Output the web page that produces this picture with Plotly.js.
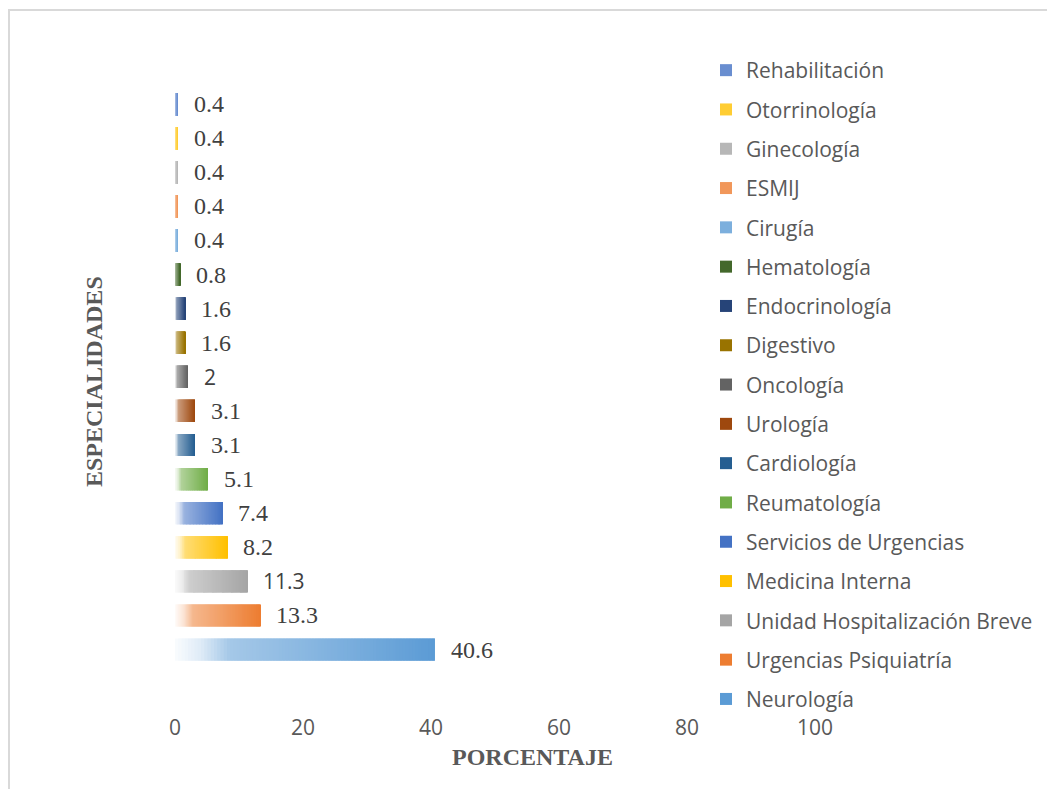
<!DOCTYPE html>
<html>
<head>
<meta charset="utf-8">
<script src="https://cdn.plot.ly/plotly-3.0.1.min.js"></script>
<style>
  html, body { margin: 0; padding: 0; background: #ffffff; }
  #chart { width: 1047px; height: 789px; }
</style>
</head>
<body>
<div id="chart"></div>
<script>
// Especialidades (de abajo hacia arriba) y su porcentaje
const categories = [
  'Neurología', 'Urgencias Psiquiatría', 'Unidad Hospitalización Breve',
  'Medicina Interna', 'Servicios de Urgencias', 'Reumatología', 'Cardiología',
  'Urología', 'Oncología', 'Digestivo', 'Endocrinología', 'Hematología',
  'Cirugía', 'ESMIJ', 'Ginecología', 'Otorrinología', 'Rehabilitación'
];
const values = [40.6, 13.3, 11.3, 8.2, 7.4, 5.1, 3.1, 3.1, 2, 1.6, 1.6, 0.8, 0.4, 0.4, 0.4, 0.4, 0.4];
const xTicks = [0, 20, 40, 60, 80, 100];
const xTitle = 'PORCENTAJE';
const yTitle = 'ESPECIALIDADES';

// Colores de serie (tema de Office)
const colors = [
  '#5B9BD5', '#ED7D31', '#A5A5A5', '#FFC000', '#4472C4', '#70AD47', '#255E91',
  '#9E480E', '#636363', '#997300', '#264478', '#43682B', '#7CAFDD', '#F1975A',
  '#B7B7B7', '#FFCD33', '#698ED0'
];
// Etiquetas que se rotulan con tipografía sans
const sansLabels = ['Oncología', 'Unidad Hospitalización Breve'];

// Degradado horizontal de blanco al color de la serie
const STEPS = 80;
function mixAmount(t) {
  if (t < 0.1) return 0.03 + (0.2 - 0.03) * t / 0.1;
  if (t < 0.21) return 0.2 + (0.55 - 0.2) * (t - 0.1) / 0.11;
  return 0.55 + 0.45 * (t - 0.21) / 0.79;
}
function tint(hex, m) {
  const n = parseInt(hex.slice(1), 16);
  const rgb = [(n >> 16) & 255, (n >> 8) & 255, n & 255];
  const out = rgb.map(c => Math.round(255 + (c - 255) * m));
  return 'rgb(' + out.join(',') + ')';
}

const traces = [];
// Tramos intermedios: cada uno se solapa con el siguiente para evitar juntas visibles
for (let i = 0; i < STEPS - 1; i++) {
  const t = (i + 0.5) / STEPS;
  traces.push({
    type: 'bar', orientation: 'h',
    y: categories,
    x: values.map(v => 2 * v / STEPS),
    base: values.map(v => v * i / STEPS),
    marker: { color: colors.map(c => tint(c, mixAmount(t))), line: { width: 0 } },
    showlegend: false, hoverinfo: 'skip'
  });
}
// Último tramo de cada barra: color pleno y entrada de leyenda
// (se añaden de arriba hacia abajo para que la leyenda siga el orden de las barras)
for (let k = categories.length - 1; k >= 0; k--) {
  const cat = categories[k];
  traces.push({
    type: 'bar', orientation: 'h',
    y: [cat],
    x: [values[k] / STEPS],
    base: [values[k] * (STEPS - 1) / STEPS],
    name: cat, legendgroup: cat,
    marker: { color: colors[k], line: { width: 0 } },
    hovertemplate: cat + ': %{customdata}<extra></extra>',
    customdata: [values[k]]
  });
}

// Geometría del área de trazado (px)
const W = 1047, H = 789;
const mL = 175, mR = 232, mT = 87, mB = 76;
const pw = W - mL - mR, ph = H - mT - mB;
const px = x => (x - mL) / pw;
const py = y => (H - mB - y) / ph;

const titleFont = { family: 'Liberation Serif, Times New Roman, serif', size: 24, color: '#595959', weight: 'bold' };

const annotations = categories.map((cat, k) => ({
  x: values[k], y: cat, xref: 'x', yref: 'y',
  text: String(values[k]),
  showarrow: false, xanchor: 'left', yanchor: 'middle', xshift: 14,
  font: sansLabels.includes(cat)
    ? { family: 'Open Sans, sans-serif', size: 21, color: '#404040' }
    : { family: 'Liberation Serif, Times New Roman, serif', size: 24, color: '#404040' }
}));
// Títulos de los ejes
annotations.push({
  xref: 'paper', yref: 'paper', x: px(532), y: py(757),
  xanchor: 'center', yanchor: 'middle', showarrow: false,
  text: xTitle, font: titleFont
});
annotations.push({
  xref: 'paper', yref: 'paper', x: px(94), y: py(382),
  xanchor: 'center', yanchor: 'middle', showarrow: false, textangle: -90,
  text: yTitle, font: titleFont
});

const layout = {
  width: W, height: H,
  margin: { l: mL, r: mR, t: mT, b: mB, pad: 0, autoexpand: false },
  paper_bgcolor: '#ffffff', plot_bgcolor: '#ffffff',
  barmode: 'overlay', bargap: 0.35,
  showlegend: true,
  legend: {
    x: px(706), xanchor: 'left', y: py(50), yanchor: 'top',
    traceorder: 'grouped', tracegroupgap: 9, maxheight: 760,
    font: { family: 'Open Sans, sans-serif', size: 21, color: '#595959' },
    bgcolor: 'rgba(0,0,0,0)', borderwidth: 0
  },
  xaxis: {
    range: [0, 100], tickvals: xTicks, ticktext: xTicks.map(String),
    showgrid: false, zeroline: false, showline: false, ticks: '',
    tickfont: { family: 'Open Sans, sans-serif', size: 21, color: '#595959' },
    fixedrange: true
  },
  yaxis: {
    type: 'category', range: [-1.86, 16.5],
    showticklabels: false, showgrid: false, zeroline: false, showline: false, ticks: '',
    fixedrange: true
  },
  annotations: annotations,
  shapes: [{
    type: 'path', xref: 'paper', yref: 'paper',
    path: 'M ' + px(9) + ' ' + py(H + 5) + ' L ' + px(9) + ' ' + py(10) + ' L ' + px(W + 5) + ' ' + py(10),
    line: { color: '#d9d9d9', width: 2 }
  }]
};

Plotly.newPlot('chart', traces, layout, { displayModeBar: false, responsive: false });
</script>
</body>
</html>
